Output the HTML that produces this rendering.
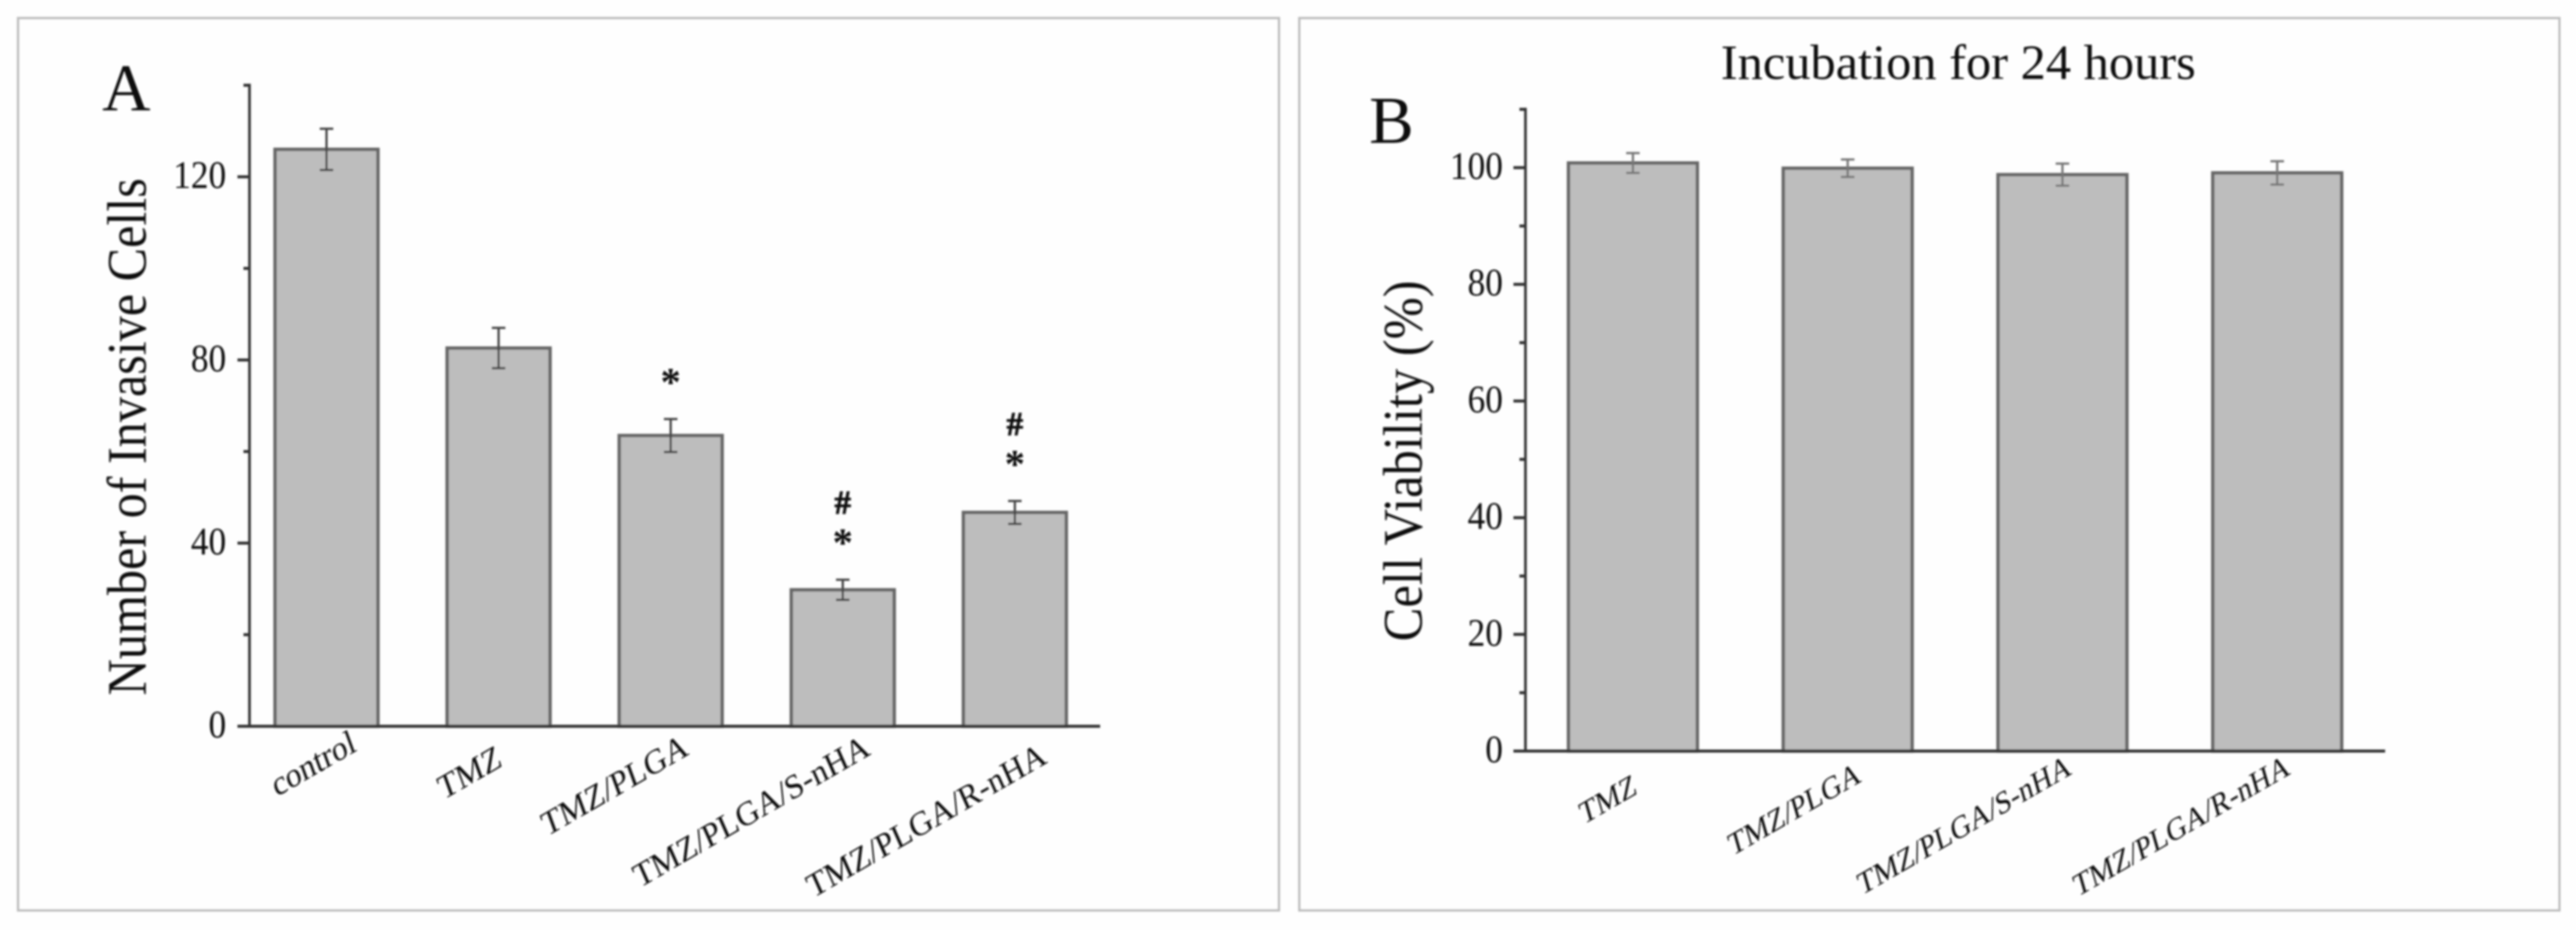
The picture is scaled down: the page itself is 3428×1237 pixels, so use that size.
<!DOCTYPE html>
<html lang="en">
<head>
<meta charset="utf-8">
<title>Invasive cell counts and cell viability bar charts</title>
<style>
html,body{margin:0;padding:0;background:#fefefe;}
body{width:3428px;height:1237px;overflow:hidden;}
svg{display:block;}
text{font-family:"Liberation Serif","Times New Roman",serif;fill:#111;}
</style>
</head>
<body>
<svg id="fig" width="3428" height="1237" viewBox="0 0 3428 1237" xmlns="http://www.w3.org/2000/svg">
  <defs>
    <filter id="soft" x="0" y="0" width="3428" height="1237" filterUnits="userSpaceOnUse">
      <feGaussianBlur stdDeviation="1.2"/>
    </filter>
  </defs>
  <rect x="0" y="0" width="3428" height="1237" fill="#fefefe"/>
  <g id="root" filter="url(#soft)">
    <rect x="24" y="24" width="1678" height="1187" fill="none" stroke="#bcbcbc" stroke-width="3"/>
    <rect x="1729" y="24" width="1677" height="1187" fill="none" stroke="#bcbcbc" stroke-width="3"/>

    <g id="panelA">
      <text x="136" y="147" font-size="89">A</text>
      <text transform="translate(194 925) rotate(-90)" font-size="74" textLength="688" lengthAdjust="spacingAndGlyphs">Number of Invasive Cells</text>
      <g text-anchor="end" font-size="44" fill="#222">
        <text transform="translate(476 998) rotate(-30) skewX(-10)">control</text>
        <text transform="translate(670 1018) rotate(-30) skewX(-10)">TMZ</text>
        <text transform="translate(918 1003) rotate(-30) skewX(-10)">TMZ/PLGA</text>
        <text transform="translate(1160 1003) rotate(-30) skewX(-6)">TMZ/PLGA/S-nHA</text>
        <text transform="translate(1395 1014) rotate(-30) skewX(-6)">TMZ/PLGA/R-nHA</text>
      </g>
    </g>

    <g id="panelB">
      <text x="1822" y="190" font-size="89">B</text>
      <text x="2290" y="105" font-size="66" textLength="632" lengthAdjust="spacingAndGlyphs">Incubation for 24 hours</text>
      <text transform="translate(1892 853) rotate(-90)" font-size="74" textLength="480" lengthAdjust="spacingAndGlyphs">Cell Viability (%)</text>
      <g text-anchor="end" font-size="40" fill="#222">
        <text transform="translate(2180 1055) rotate(-30) skewX(-14)">TMZ</text>
        <text transform="translate(2478 1039) rotate(-30) skewX(-14)">TMZ/PLGA</text>
        <text transform="translate(2758 1029) rotate(-30) skewX(-14)">TMZ/PLGA/S-nHA</text>
        <text transform="translate(3049 1029) rotate(-30) skewX(-14)">TMZ/PLGA/R-nHA</text>
      </g>
    </g>
  </g>
</svg>
<script>
// Panel A data
const categoriesA = ['control', 'TMZ', 'TMZ/PLGA', 'TMZ/PLGA/S-nHA', 'TMZ/PLGA/R-nHA'];
const valuesA = [126, 82.6, 63.5, 29.8, 46.7];
const errorsA = [4.5, 4.4, 3.6, 2.2, 2.5];
const starsA = [0, 0, 1, 1, 1];
const hashesA = [0, 0, 0, 1, 1];
const majorTicksA = [0, 40, 80, 120];
const minorTicksA = [20, 60, 100, 140];

// Panel B data
const categoriesB = ['TMZ', 'TMZ/PLGA', 'TMZ/PLGA/S-nHA', 'TMZ/PLGA/R-nHA'];
const valuesB = [100.8, 99.9, 98.8, 99.1];
const errorsB = [1.7, 1.5, 1.9, 2.0];
const majorTicksB = [0, 20, 40, 60, 80, 100];
const minorTicksB = [10, 30, 50, 70, 90, 110];

const NS = 'http://www.w3.org/2000/svg';

function mk(parent, tag, attrs) {
  const el = document.createElementNS(NS, tag);
  for (const k in attrs) el.setAttribute(k, attrs[k]);
  parent.appendChild(el);
  return el;
}

function drawPanel(parent, key, cfg) {
  const y = v => cfg.y0 - v * cfg.unit;
  const x = i => cfg.x0 + i * cfg.step;

  // bars
  cfg.values.forEach((v, i) => {
    const bar = mk(parent, 'rect', {
      x: x(i) - cfg.barW / 2, y: y(v), width: cfg.barW, height: y(0) - y(v),
      fill: '#bdbdbd', stroke: '#666', 'stroke-width': 4.5
    });
    
    
  });

  // error bars
  cfg.values.forEach((v, i) => {
    const top = y(v + cfg.errors[i]);
    const bot = y(v - cfg.errors[i]);
    const cx = x(i) + cfg.errDx;
    const err = mk(parent, 'path', {
      d: 'M' + (cx - 9) + ' ' + top + 'H' + (cx + 9) + 'M' + cx + ' ' + top + 'V' + bot + 'M' + (cx - 9) + ' ' + bot + 'H' + (cx + 9),
      fill: 'none', stroke: cfg.errColor, 'stroke-width': 3
    });
    
    
  });

  // y axis line
  const yAxis = mk(parent, 'line', {
    x1: cfg.axisX, x2: cfg.axisX, y1: y(cfg.yMax) - 2, y2: y(0) + 2, stroke: '#333', 'stroke-width': 3.5
  });
  
  

  // x axis line
  const xAxis = mk(parent, 'line', {
    x1: cfg.axisX - 16, x2: cfg.axisEnd, y1: y(0), y2: y(0), stroke: '#333', 'stroke-width': 4
  });
  
  

  // major ticks + labels
  cfg.major.forEach(t => {
    const tick = mk(parent, 'line', {
      x1: cfg.axisX - 16, x2: cfg.axisX, y1: y(t), y2: y(t), stroke: '#333', 'stroke-width': 4
    });
    
    

    const str = String(t);
    const w = str.length * 23.5;
    const label = mk(parent, 'text', {
      x: cfg.labelRight - w, y: y(t) + 15, 'font-size': 52, textLength: w, lengthAdjust: 'spacingAndGlyphs', fill: '#222'
    });
    label.textContent = str;
    
    
  });

  // minor ticks
  cfg.minor.forEach(t => {
    const tick = mk(parent, 'line', {
      x1: cfg.axisX - 8, x2: cfg.axisX, y1: y(t), y2: y(t), stroke: '#333', 'stroke-width': 4
    });
    
    
  });

  // significance marks
  if (cfg.stars) {
    cfg.stars.forEach((on, i) => {
      const topY = y(cfg.values[i] + cfg.errors[i]);
      if (on) {
        const star = mk(parent, 'text', {
          x: x(i), y: topY - 51 + 20, 'font-size': 54, 'font-weight': 'bold', 'text-anchor': 'middle', fill: '#111'
        });
        star.textContent = '*';
        
        
      }
      if (cfg.hashes[i]) {
        const hash = mk(parent, 'text', {
          x: x(i), y: topY - 103 + 15, 'font-size': 44, 'font-weight': 'bold', 'text-anchor': 'middle', fill: '#111',
          stroke: '#111', 'stroke-width': 1
        });
        hash.textContent = '#';
        
        
      }
    });
  }
}

drawPanel(document.getElementById('panelA'), 'a', {
  cats: categoriesA, values: valuesA, errors: errorsA, major: majorTicksA, minor: minorTicksA,
  stars: starsA, hashes: hashesA,
  y0: 966, unit: 6.09, yMax: 140, x0: 434.5, step: 229, barW: 137, errDx: 0,
  axisX: 332, axisEnd: 1464, labelRight: 301, errColor: '#444'
});

drawPanel(document.getElementById('panelB'), 'b', {
  cats: categoriesB, values: valuesB, errors: errorsB, major: majorTicksB, minor: minorTicksB,
  y0: 999, unit: 7.76, yMax: 110, x0: 2173, step: 285.8, barW: 171.5, errDx: 0,
  axisX: 2030, axisEnd: 3174, labelRight: 2000, errColor: '#777'
});
</script>
</body>
</html>
